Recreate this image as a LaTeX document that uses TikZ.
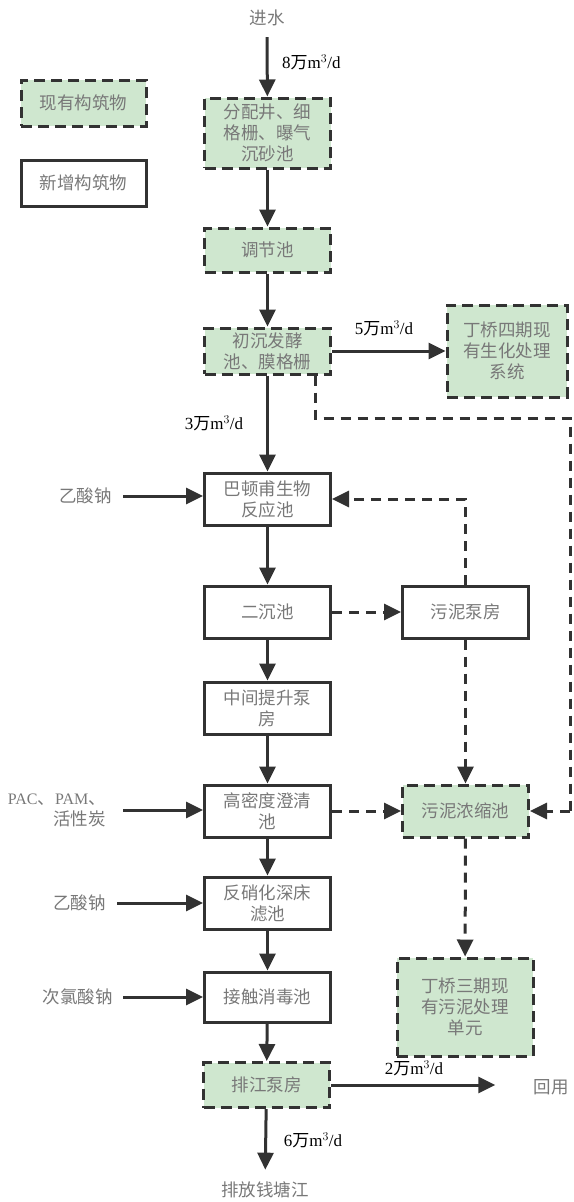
\documentclass[tikz,border=0pt]{standalone}
\usepackage{fontspec}
\setmainfont{Liberation Serif}
\newfontfamily\cjk{Noto Sans CJK SC}
\usetikzlibrary{arrows.meta}
\definecolor{lgreen}{RGB}{207,231,207}
\definecolor{txtgray}{RGB}{120,120,120}
\definecolor{edge}{RGB}{50,50,50}
\tikzset{
  box/.style={draw=edge, line width=3pt, minimum width=126pt, minimum height=52pt, inner sep=0pt, align=center, font=\cjk\fontsize{17.5}{21}\selectfont, text=txtgray},
  oldbox/.style={box, fill=lgreen, dash pattern=on 11pt off 6pt},
  plain/.style={font=\cjk\fontsize{17.5}{21}\selectfont, text=txtgray, inner sep=0pt, align=center},
  flow/.style={font=\fontsize{17}{20}\selectfont, inner sep=0pt},
  conn/.style={draw=edge, line width=3pt, -{Triangle[length=17pt,width=16pt]}},
  dconn/.style={conn, dash pattern=on 10pt off 7pt},
  dline/.style={draw=edge, line width=3pt, dash pattern=on 10pt off 7pt}
}
\newcommand{\wan}{{\cjk 万}}
\begin{document}
\begin{tikzpicture}[x=1pt,y=-1pt]
\useasboundingbox (0,0) rectangle (573,1202);
% legend
\node[oldbox, minimum width=125pt, minimum height=46pt] (leg1) at (83.5,103) {现有构筑物};
\node[box, minimum width=125pt, minimum height=46pt] (leg2) at (83.5,183) {新增构筑物};
% main column
\node[plain] (in) at (267,18) {进水};
\node[oldbox, minimum height=70pt] (b1) at (267.5,133) {分配井、细\\格栅、曝气\\沉砂池};
\node[oldbox, minimum height=44pt] (b2) at (267.5,250) {调节池};
\node[oldbox, minimum height=46pt] (b3) at (267.5,351) {初沉发酵\\池、膜格栅};
\node[oldbox, minimum width=120pt, minimum height=92pt] (b4) at (507,351) {丁桥四期现\\有生化处理\\系统};
\node[box] (b5) at (267.5,499) {巴顿甫生物\\反应池};
\node[box] (b6) at (267.5,612) {二沉池};
\node[box] (b7) at (465.5,612) {污泥泵房};
\node[box] (b8) at (267.5,708) {中间提升泵\\房};
\node[box] (b9) at (267.5,811) {高密度澄清\\池};
\node[oldbox] (b10) at (465.5,811) {污泥浓缩池};
\node[box] (b11) at (267.5,903) {反硝化深床\\滤池};
\node[box, minimum height=50pt] (b12) at (267.5,997) {接触消毒池};
\node[oldbox, minimum width=136pt, minimum height=98pt] (b13) at (465,1007) {丁桥三期现\\有污泥处理\\单元};
\node[oldbox, minimum height=45pt] (b14) at (266.5,1085) {排江泵房};
\node[plain] (reuse) at (551,1087) {回用};
\node[plain] (river) at (265,1190) {排放钱塘江};
% chemicals
\node[plain, anchor=east] (c1) at (112,496) {乙酸钠};
\node[plain, anchor=east, align=right] (c2) at (106,810) {{\rmfamily\fontsize{16}{21}\selectfont PAC}、{\rmfamily\fontsize{16}{21}\selectfont PAM}、\\活性炭};
\node[plain, anchor=east] (c3) at (106,903) {乙酸钠};
\node[plain, anchor=east] (c4) at (113,997) {次氯酸钠};
% coordinates for the recycle line
\coordinate (r1) at (315,418);
\coordinate (r2) at (570,418);
\coordinate (r3) at (570,811);
% main flow
\draw[conn, shorten <=11pt] (in) -- (b1);
\node[flow, anchor=west] at (282,62) {8\wan m$^3$/d};
\draw[conn] (b1) -- (b2);
\draw[conn] (b2) -- (b3);
\draw[conn] (b3) -- (b4);
\node[flow] at (384,328) {5\wan m$^3$/d};
\draw[conn] (b3) -- (b5);
\node[flow] at (214,423) {3\wan m$^3$/d};
\draw[conn] (b5) -- (b6);
\draw[conn] (b6) -- (b8);
\draw[conn] (b8) -- (b9);
\draw[conn] (b9) -- (b11);
\draw[conn] (b11) -- (b12);
\draw[conn] (b12) -- (b14);
\draw[conn, shorten >=38pt] (b14.east) -- (reuse.west |- b14.east);
\node[flow] at (414,1068) {2\wan m$^3$/d};
\draw[conn, shorten >=12pt] (b14) -- (river);
\node[flow] at (313,1140) {6\wan m$^3$/d};
% chemicals
\draw[conn, shorten <=11pt] (c1.east) -- (b5.west |- c1.east);
\draw[conn, shorten <=17pt] (c2.east) -- (b9.west |- c2.east);
\draw[conn, shorten <=11pt] (c3.east) -- (b11.west |- c3.east);
\draw[conn, shorten <=10pt] (c4.east) -- (b12.west |- c4.east);
% sludge (dashed)
\draw[dconn] (b6) -- (b7);
\draw[dconn] (b7.north) -- (b7.north |- b5.east) -- (b5.east);
\draw[dconn] (b7) -- (b10);
\draw[dconn] (b9) -- (b10);
\draw[dconn] (b10) -- (b13);
\draw[dline] (b3.south -| r1) -- (r1) -- (r2) -- (r3);
\draw[dconn] (r3) -- (b10.east);
\end{tikzpicture}
\end{document}
